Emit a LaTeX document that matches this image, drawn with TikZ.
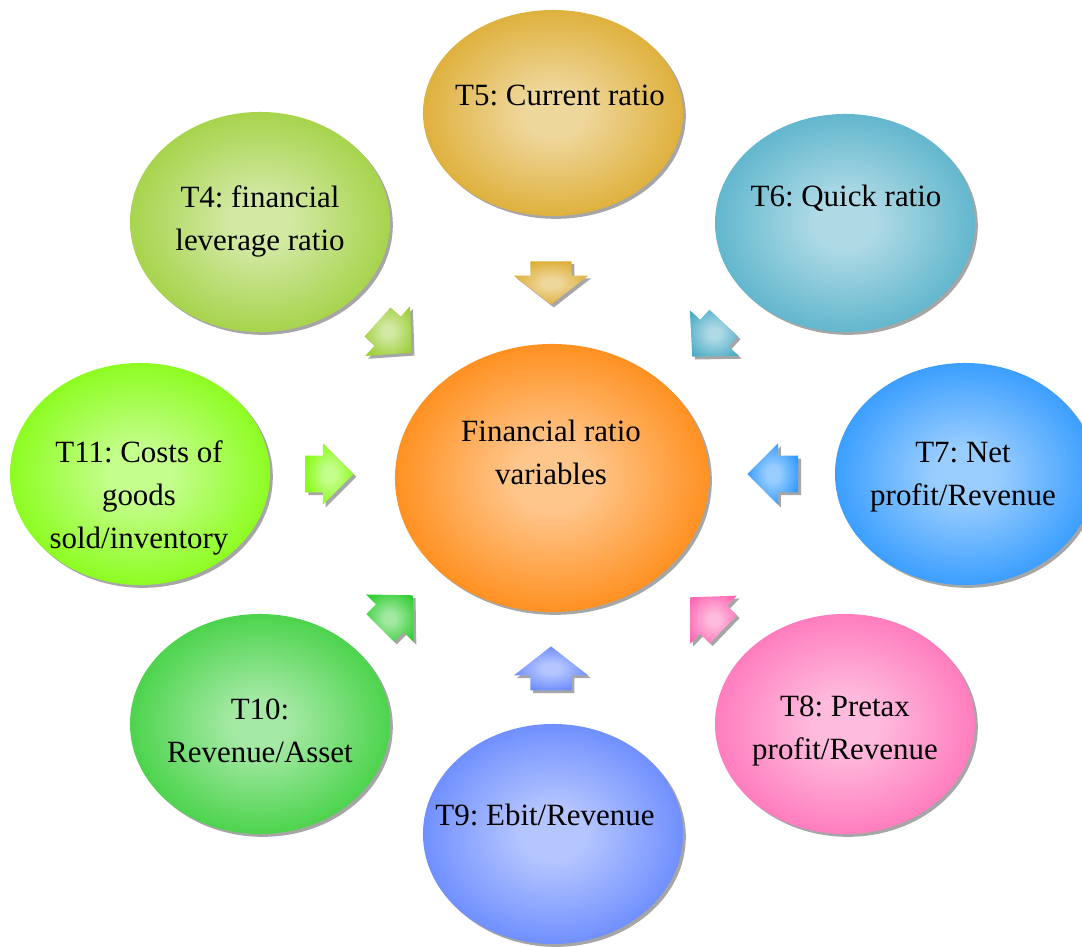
\documentclass[tikz,border=0pt]{standalone}
\usepackage{fontspec}
\setmainfont{Liberation Serif}
\frenchspacing
\usetikzlibrary{shapes.geometric,shapes.arrows,shadows}
\colorlet{glowin}{white}
\colorlet{glowout}{black}
\pgfdeclareradialshading[glowin,glowout]{glow}{\pgfpoint{0bp}{0bp}}{color(0bp)=(glowin); color(6bp)=(glowin); color(31bp)=(glowout); color(50bp)=(glowout)}
\definecolor{cOrange}{HTML}{FF8000}
\definecolor{cGold}{HTML}{DAA520}
\definecolor{cTeal}{HTML}{4BACC6}
\definecolor{cYG}{HTML}{9ACD32}
\definecolor{cLawn}{HTML}{7CFC00}
\definecolor{cDodger}{HTML}{1E90FF}
\definecolor{cLime}{HTML}{32CD32}
\definecolor{cPink}{HTML}{FF69B4}
\definecolor{cBlue}{HTML}{5B7FFF}
\tikzset{
  glowfill/.style={/utils/exec={\colorlet{glowout}{#1}\colorlet{glowin}{#1!45!white}}, shading=glow},
  softshadow/.style={drop shadow={shadow xshift=0.07cm, shadow yshift=-0.07cm, fill=black, opacity=0.35}},
  bubble/.style={ellipse, inner sep=0pt, glowfill=#1, softshadow},
  blockarrow/.style={single arrow, anchor=tip, inner xsep=0pt, inner ysep=0.48cm, minimum height=1.15cm,
    single arrow head extend=0.35cm, single arrow tip angle=92, glowfill=#1, softshadow},
  label/.style={font=\fontsize{22}{30.6}\selectfont, align=center, inner sep=0pt, text=black},
}
\begin{document}
\begin{tikzpicture}[x=0.025cm, y=-0.025cm]
\useasboundingbox (0,0) rectangle (1082,946);
\fill[white] (0,0) rectangle (1082,946);
\clip (0,0) rectangle (1082,946);
% bubbles
\node[bubble=cOrange, minimum width=7.85cm, minimum height=6.7cm] (ec) at (552,478) {};
\node[bubble=cGold, minimum width=6.5cm, minimum height=5.15cm] (e5) at (553,113) {};
\node[bubble=cTeal, minimum width=6.5cm, minimum height=5.45cm] (e6) at (845,223) {};
\node[bubble=cYG, minimum width=6.5cm, minimum height=5.5cm] (e4) at (260,222) {};
\node[bubble=cLawn, minimum width=6.5cm, minimum height=5.55cm] (e11) at (140,474) {};
\node[bubble=cDodger, minimum width=6.5cm, minimum height=5.55cm] (e7) at (965,474) {};
\node[bubble=cLime, minimum width=6.5cm, minimum height=5.5cm] (e10) at (260,724) {};
\node[bubble=cPink, minimum width=6.5cm, minimum height=5.5cm] (e8) at (845,724) {};
\node[bubble=cBlue, minimum width=6.5cm, minimum height=5.5cm] (e9) at (553,834) {};
% labels
\node[label] (tc) at (551,452) {Financial ratio\\variables};
\node[label] (t5) at (560,95) {T5: Current ratio};
\node[label] (t6) at (846,198) {T6: Quick ratio};
\node[label] (t4) at (260,221) {T4: financial\\leverage ratio};
\node[label] (t11) at (139,498) {T11: Costs of\\goods\\sold/inventory};
\node[label] (t7) at (963,477) {T7: Net\\profit/Revenue};
\node[label] (t10) at (260,731) {T10:\\Revenue/Asset};
\node[label] (t8) at (845,731) {T8: Pretax\\profit/Revenue};
\node[label] (t9) at (545,815) {T9: Ebit/Revenue};
% block arrows pointing to the centre (placed by their tips)
\node[blockarrow=cGold, rotate=-90, inner ysep=0.51cm, single arrow head extend=0.41cm, single arrow tip angle=104, minimum height=1.08cm] (a5) at (551,305) {};
\node[blockarrow=cBlue, rotate=90, inner ysep=0.51cm, single arrow head extend=0.41cm, single arrow tip angle=104, minimum height=1.1cm] (a9) at (551,646) {};
\node[blockarrow=cLawn, inner ysep=0.45cm, single arrow head extend=0.31cm, single arrow tip angle=90, minimum height=1.2cm] (a11) at (354,474) {};
\node[blockarrow=cDodger, rotate=180, inner ysep=0.45cm, single arrow head extend=0.31cm, single arrow tip angle=90, minimum height=1.27cm] (a7) at (747,474) {};
\node[blockarrow=cYG, rotate=-42] (a4) at (412,353) {};
\node[blockarrow=cTeal, rotate=227] (a6) at (692,357) {};
\node[blockarrow=cLime, rotate=45] (a10) at (413,595) {};
\node[blockarrow=cPink, rotate=136] (a8) at (690,597) {};
\end{tikzpicture}
\end{document}
